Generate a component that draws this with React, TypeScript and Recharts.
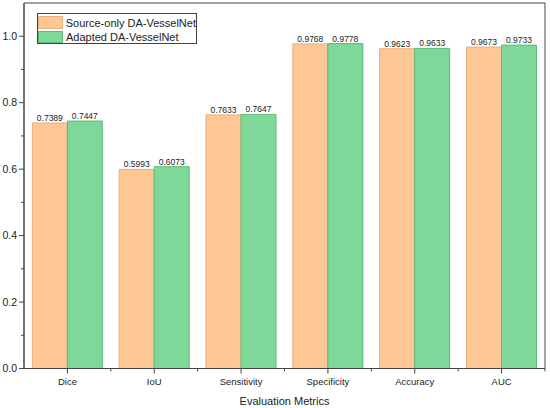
import React from 'react';
import { BarChart, Bar, XAxis, YAxis, Legend, LabelList, Label, ReferenceArea } from 'recharts';

// Metric names and scores
const metrics = ['Dice', 'IoU', 'Sensitivity', 'Specificity', 'Accuracy', 'AUC'];
const sourceOnly = [0.7389, 0.5993, 0.7633, 0.9768, 0.9623, 0.9673];
const adapted = [0.7447, 0.6073, 0.7647, 0.9778, 0.9633, 0.9733];
const seriesNames = ['Source-only DA-VesselNet', 'Adapted DA-VesselNet'];
const yTicks = [0, 0.1, 0.2, 0.3, 0.4, 0.5, 0.6, 0.7, 0.8, 0.9, 1.0];
const majorTicks = [0, 0.2, 0.4, 0.6, 0.8, 1.0];
const yMax = 1.1;

const data = metrics.map((name, i) => ({
  name,
  sourceOnly: sourceOnly[i],
  adapted: adapted[i],
}));

const FONT = "Arial, 'Liberation Sans', sans-serif";
const AXIS = '#444';
const ORANGE = '#FEC794';
const ORANGE_EDGE = '#E9AE7E';
const GREEN = '#7DD899';
const GREEN_EDGE = '#5DBA78';

function YTick({ x, y, payload }: any) {
  const v = payload.value;
  const major = majorTicks.some((m) => Math.abs(m - v) < 1e-6);
  return (
    <g>
      <line x1={x - (major ? 5 : 3)} x2={x} y1={y} y2={y} stroke={AXIS} strokeWidth={1} />
      {major && (
        <text x={x - 7} y={y} dy="0.35em" textAnchor="end" fontSize={10.5} fill="#222" fontFamily={FONT}>
          {v.toFixed(1)}
        </text>
      )}
    </g>
  );
}

function XTick({ x, y, payload }: any) {
  const half = payload.offset || 43.33;
  return (
    <g>
      <line x1={x} x2={x} y1={y} y2={y + 5} stroke={AXIS} strokeWidth={1} />
      <line x1={x + half} x2={x + half} y1={y} y2={y + 3} stroke={AXIS} strokeWidth={1} />
      <text x={x} y={y + 16.5} textAnchor="middle" fontSize={9.5} fill="#222" fontFamily={FONT}>
        {payload.value}
      </text>
    </g>
  );
}

function LegendBox({ payload }: any) {
  const items = [...(payload || [])].sort(
    (a: any, b: any) => seriesNames.indexOf(a.value) - seriesNames.indexOf(b.value)
  );
  return (
    <div
      style={{
        width: 160,
        height: 31,
        boxSizing: 'border-box',
        border: `1px solid ${AXIS}`,
        background: '#fff',
        paddingTop: 1.5,
        fontFamily: FONT,
        fontSize: 11,
        color: '#222',
      }}
    >
      {items.map((p: any) => (
        <div key={p.value} style={{ display: 'flex', alignItems: 'center', height: 14.2 }}>
          <span
            style={{
              display: 'inline-block',
              width: 25,
              height: 12.5,
              boxSizing: 'border-box',
              background: p.color,
              border: `1px solid ${p.value === seriesNames[0] ? ORANGE_EDGE : GREEN_EDGE}`,
            }}
          />
          <span style={{ marginLeft: 3, whiteSpace: 'nowrap' }}>{p.value}</span>
        </div>
      ))}
    </div>
  );
}

export default function App() {
  return (
    <div style={{ position: 'absolute', left: 0, top: 0, width: 550, height: 408, background: '#fff' }}>
      <BarChart
        width={550}
        height={408}
        data={data}
        margin={{ top: 3, right: 5, left: 0, bottom: 0 }}
        barCategoryGap="9.6%"
        barGap={0}
      >
        {/* frame round the plot box, drawn behind the bars */}
        <ReferenceArea
          y1={0}
          y2={yMax}
          fill="none"
          fillOpacity={0}
          stroke={AXIS}
          strokeWidth={1}
          ifOverflow="visible"
        />
        <XAxis
          dataKey="name"
          interval={0}
          height={39.5}
          tickSize={0}
          tickMargin={0}
          tickLine={false}
          axisLine={{ stroke: AXIS }}
          tick={<XTick />}
        >
          <Label
            value="Evaluation Metrics"
            position="insideBottom"
            offset={3}
            fontSize={11}
            fill="#222"
            fontFamily={FONT}
          />
        </XAxis>
        <YAxis
          domain={[0, yMax]}
          ticks={yTicks}
          width={24}
          tickSize={0}
          tickMargin={0}
          tickLine={false}
          axisLine={{ stroke: AXIS }}
          tick={<YTick />}
          interval={0}
        />
        <Legend
          layout="vertical"
          align="center"
          verticalAlign="middle"
          wrapperStyle={{ left: 37, top: 13, width: 160, height: 31 }}
          content={<LegendBox />}
        />
        <Bar
          dataKey="sourceOnly"
          name={seriesNames[0]}
          fill={ORANGE}
          stroke={ORANGE_EDGE}
          strokeWidth={1}
          isAnimationActive={false}
        >
          <LabelList dataKey="sourceOnly" position="top" offset={2} fontSize={8.5} fill="#222" fontFamily={FONT} />
        </Bar>
        <Bar
          dataKey="adapted"
          name={seriesNames[1]}
          fill={GREEN}
          stroke={GREEN_EDGE}
          strokeWidth={1}
          isAnimationActive={false}
        >
          <LabelList dataKey="adapted" position="top" offset={2} fontSize={8.5} fill="#222" fontFamily={FONT} />
        </Bar>
      </BarChart>
    </div>
  );
}
